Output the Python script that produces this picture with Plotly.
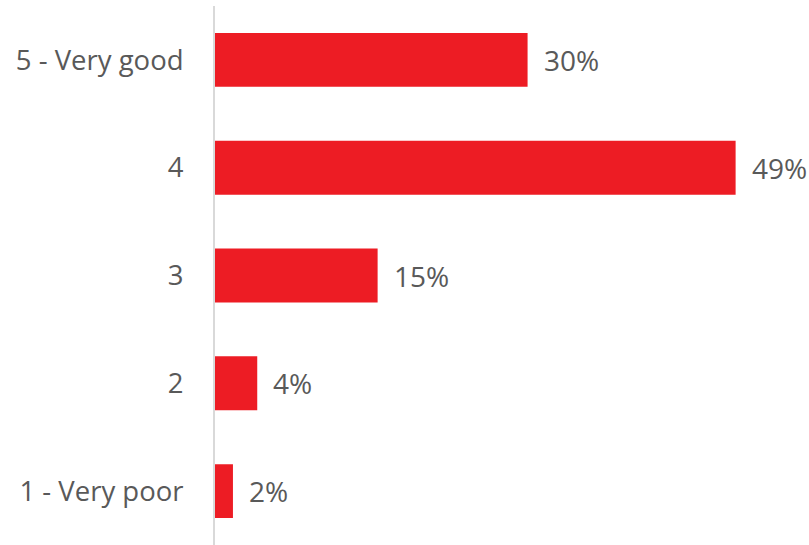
import plotly.graph_objects as go

categories = ["1 - Very poor", "2", "3", "4", "5 - Very good"]
values = [1.7, 4.0, 15.4, 49.3, 29.6]
labels = ["2%", "4%", "15%", "49%", "30%"]

bar_color = "#ED1C24"
text_color = "#595959"
font_family = "Open Sans"

fig = go.Figure()
fig.add_trace(go.Bar(
    y=categories, x=values, orientation="h",
    marker=dict(color=bar_color, line=dict(width=0)),
    hoverinfo="skip",
))

for i, (v, t) in enumerate(zip(values, labels)):
    fig.add_annotation(x=v, y=i, text=t, showarrow=False, xanchor="left",
                       yanchor="middle", xshift=14,
                       font=dict(family=font_family, size=28, color=text_color))

fig.update_layout(
    width=809, height=545,
    margin=dict(l=215, r=0, t=6, b=0),
    paper_bgcolor="white", plot_bgcolor="white",
    bargap=0.5, showlegend=False,
    xaxis=dict(range=[0, 56.25], visible=False, fixedrange=True),
    yaxis=dict(type="category", categoryorder="array", categoryarray=categories,
               showline=True, linecolor="#D9D9D9", linewidth=2,
               showgrid=False, zeroline=False, ticks="",
               ticklabelstandoff=24,
               tickfont=dict(family=font_family, size=27.5, color=text_color),
               fixedrange=True),
)

fig.write_html("out.html")
